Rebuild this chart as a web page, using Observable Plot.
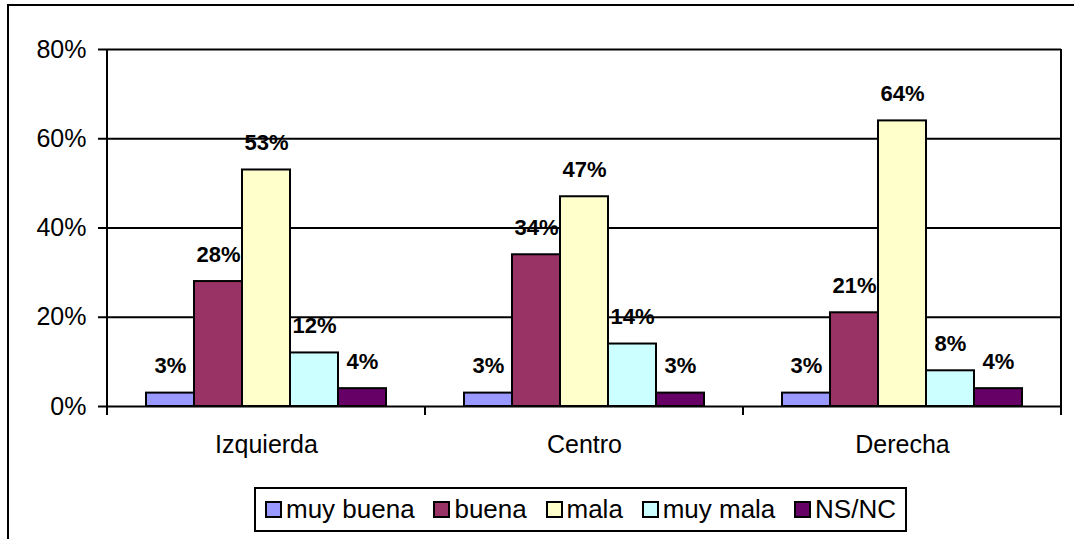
<!DOCTYPE html>
<html><head><meta charset="utf-8">
<script src="https://cdn.jsdelivr.net/npm/d3@7"></script>
<script src="https://cdn.jsdelivr.net/npm/@observablehq/plot@0.6"></script>
<style>
html,body{margin:0;padding:0;background:#fff;overflow:hidden;}
#wrap{position:relative;width:1074px;height:539px;overflow:hidden;font-family:"Liberation Sans",Arial,sans-serif;}
#border{position:absolute;left:7px;top:4px;width:1200px;height:700px;border:2px solid #000;}
#chart{position:absolute;left:0;top:0;}
#legend{position:absolute;left:254px;top:487px;width:653px;height:45px;box-sizing:border-box;border:2px solid #000;display:flex;align-items:center;justify-content:space-between;padding:0 9px;font-size:26px;background:#fff;color:#000;}
.item{display:flex;align-items:center;white-space:nowrap;}
.sw{width:13px;height:13px;border:2px solid #000;margin-right:4px;}
</style></head><body>
<div id="wrap"><div id="border"></div><div id="chart"></div><div id="legend"></div></div>
<script>
const categories = ["Izquierda", "Centro", "Derecha"];
const series = ["muy buena", "buena", "mala", "muy mala", "NS/NC"];
const colors = ["#9999FF", "#993366", "#FFFFCC", "#CCFFFF", "#660066"];
const izquierda = [3, 28, 53, 12, 4];
const centro = [3, 34, 47, 14, 3];
const derecha = [3, 21, 64, 8, 4];
const yTicks = [0, 20, 40, 60, 80];

const valuesByCat = [izquierda, centro, derecha];
const rows = [];
categories.forEach((c, i) => series.forEach((s, j) => rows.push({cat: c, series: s, value: valuesByCat[i][j]})));

const tickLen = 9;
// plot-area border + category boundary ticks, drawn per facet from the facet frame
const frameLines = (index, scales, values, dims) => {
  const g = d3.create("svg:g").attr("stroke", "black").attr("stroke-width", 2).attr("fill", "none");
  const left = dims.marginLeft, right = dims.width - dims.marginRight;
  const yb = scales.y(yTicks[0]), yt = scales.y(yTicks[yTicks.length - 1]);
  for (const k of index) {
    g.append("line").attr("x1", left).attr("x2", left).attr("y1", k === 0 ? yt : yb).attr("y2", yb + tickLen);
    if (k === categories.length - 1) {
      g.append("line").attr("x1", right).attr("x2", right).attr("y1", yt).attr("y2", yb + tickLen);
    }
  }
  return g.node();
};

const chart = Plot.plot({
  width: 1074,
  height: 470,
  marginLeft: 106,
  marginRight: 13,
  marginTop: 49,
  marginBottom: 64,
  style: {fontFamily: "'Liberation Sans', Arial, sans-serif", fontSize: "25px", color: "black", background: "transparent", overflow: "visible"},
  fx: {domain: categories, padding: 0, label: null},
  x: {domain: series, paddingInner: 0, paddingOuter: 0.75, axis: null},
  y: {domain: [0, 80], label: null},
  color: {domain: series, range: colors},
  marks: [
    Plot.gridY(yTicks, {stroke: "black", strokeOpacity: 1, strokeWidth: 2}),
    Plot.axisY({ticks: yTicks, tickFormat: d => d + "%", tickSize: tickLen, tickPadding: 12, fontSize: 25, stroke: "black", strokeWidth: 2, label: null}),
    Plot.axisFx({anchor: "bottom", tickSize: 0, tickPadding: 29, fontSize: 25, label: null}),
    Plot.barY(rows, {fx: "cat", x: "series", y: "value", fill: "series", stroke: "black", strokeWidth: 2}),
    Plot.text(rows, {fx: "cat", x: "series", y: "value", text: d => d.value + "%", dy: -27, fontSize: 22, fontWeight: "bold", fill: "black"}),
    Plot.ruleY(categories, {fx: d => d, y: () => yTicks[0], render: frameLines})
  ]
});
document.getElementById("chart").appendChild(chart);

const legend = document.getElementById("legend");
series.forEach((s, i) => {
  const item = document.createElement("div");
  item.className = "item";
  const sw = document.createElement("div");
  sw.className = "sw";
  sw.style.background = colors[i];
  const t = document.createElement("span");
  t.textContent = s;
  item.appendChild(sw);
  item.appendChild(t);
  legend.appendChild(item);
});
</script>
</body></html>
